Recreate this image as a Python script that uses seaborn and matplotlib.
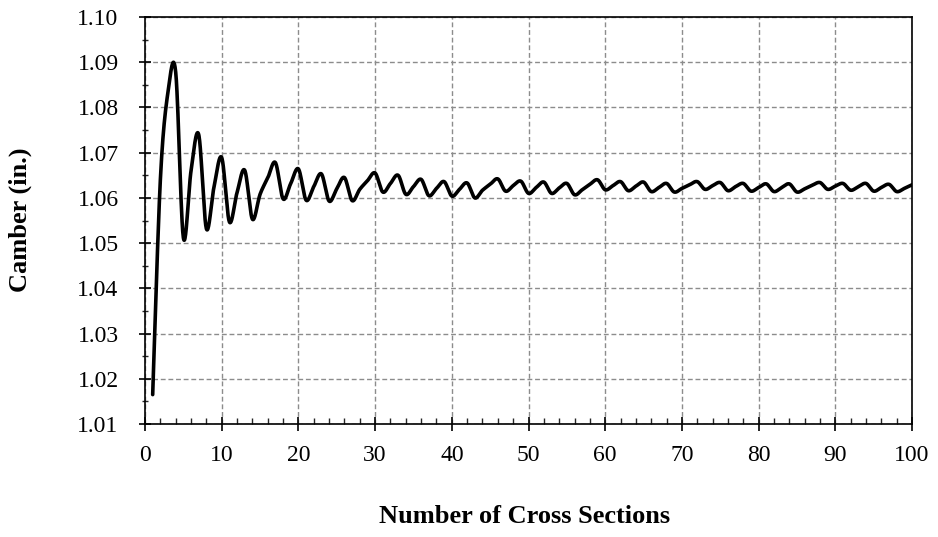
import numpy as np
import pandas as pd
import matplotlib
matplotlib.use("Agg")
import matplotlib.pyplot as plt
import seaborn as sns
from matplotlib.ticker import MultipleLocator

# ---- data ----
cross_sections = list(range(1, 101))
camber = [
    1.0165, 1.0640, 1.0835, 1.0878, 1.0512, 1.0660, 1.0740, 1.0532, 1.0625, 1.0689,
    1.0547, 1.0612, 1.0661, 1.0553, 1.0608, 1.0644, 1.0678, 1.0598, 1.0632, 1.0664,
    1.0595, 1.0625, 1.0653, 1.0593, 1.0620, 1.0645, 1.0594, 1.0619, 1.0638, 1.0655,
    1.0613, 1.0632, 1.0650, 1.0608, 1.0625, 1.0641, 1.0605, 1.0621, 1.0636, 1.0604,
    1.0619, 1.0633, 1.0600, 1.0617, 1.0630, 1.0642, 1.0615, 1.0627, 1.0637, 1.0610,
    1.0623, 1.0635, 1.0610, 1.0622, 1.0632, 1.0607, 1.0618, 1.0630, 1.0640, 1.0618,
    1.0627, 1.0636, 1.0616, 1.0626, 1.0635, 1.0614, 1.0623, 1.0632, 1.0613, 1.0621,
    1.0629, 1.0636, 1.0619, 1.0627, 1.0634, 1.0616, 1.0625, 1.0632, 1.0615, 1.0623,
    1.0631, 1.0614, 1.0623, 1.0631, 1.0613, 1.0620, 1.0628, 1.0634, 1.0619, 1.0626,
    1.0632, 1.0617, 1.0625, 1.0632, 1.0615, 1.0623, 1.0630, 1.0614, 1.0621, 1.0629,
]
x_ticks = [0, 10, 20, 30, 40, 50, 60, 70, 80, 90, 100]
y_ticks = [1.01, 1.02, 1.03, 1.04, 1.05, 1.06, 1.07, 1.08, 1.09, 1.10]
x_title = "Number of Cross Sections"
y_title = "Camber (in.)"


def smooth_path(xs, ys, n=24):
    """Excel-style smoothed line: cubic Bezier segments with Catmull-Rom control points."""
    xs = np.asarray(xs, float)
    ys = np.asarray(ys, float)
    px = np.concatenate([[xs[0]], xs, [xs[-1]]])
    py = np.concatenate([[ys[0]], ys, [ys[-1]]])
    t = np.linspace(0, 1, n, endpoint=False)
    ox, oy = [], []
    for i in range(1, len(px) - 2):
        p0 = np.array([px[i - 1], py[i - 1]])
        p1 = np.array([px[i], py[i]])
        p2 = np.array([px[i + 1], py[i + 1]])
        p3 = np.array([px[i + 2], py[i + 2]])
        c1 = p1 + (p2 - p0) / 6.0
        c2 = p2 - (p3 - p1) / 6.0
        b = ((1 - t) ** 3)[:, None] * p1 + (3 * (1 - t) ** 2 * t)[:, None] * c1 \
            + (3 * (1 - t) * t ** 2)[:, None] * c2 + (t ** 3)[:, None] * p2
        ox.extend(b[:, 0]); oy.extend(b[:, 1])
    ox.append(xs[-1]); oy.append(ys[-1])
    return np.array(ox), np.array(oy)


sx, sy = smooth_path(cross_sections, camber)
df = pd.DataFrame({"x": sx, "y": sy})

sns.set_theme(style="white")
plt.rcParams["font.family"] = ["Liberation Serif", "DejaVu Serif"]

fig = plt.figure(figsize=(9.38, 5.37), dpi=100)
ax = fig.add_axes([0.1546, 0.2104, 0.8177, 0.7579])

sns.lineplot(data=df, x="x", y="y", ax=ax, color="black", linewidth=2.6,
             sort=False, estimator=None, zorder=3)

ax.set_xlim(0, 100)
ax.set_ylim(1.01, 1.10)
ax.set_xticks(x_ticks)
ax.set_yticks(y_ticks)
ax.set_xticklabels([str(v) for v in x_ticks])
ax.set_yticklabels([f"{v:.2f}" for v in y_ticks])
ax.xaxis.set_minor_locator(MultipleLocator(2))
ax.yaxis.set_minor_locator(MultipleLocator(0.005))

ax.grid(True, which="major", color="#8c8c8c", linestyle=(0, (3.5, 2)), linewidth=1.0)
ax.set_axisbelow(True)
for s in ax.spines.values():
    s.set_color("black")
    s.set_linewidth(1.2)

ax.tick_params(axis="x", which="major", direction="inout", length=10, width=1.2,
               pad=10, labelsize=17, colors="black", bottom=True)
ax.tick_params(axis="x", which="minor", direction="in", length=4.5, width=1.0, bottom=True)
ax.tick_params(axis="y", which="major", direction="inout", length=8, width=1.2,
               pad=15, labelsize=17, colors="black", left=True)
ax.tick_params(axis="y", which="minor", direction="inout", length=5, width=1.0, left=True)

ax.set_xlabel(x_title, fontsize=19, fontweight="bold", color="black")
ax.set_ylabel(y_title, fontsize=19, fontweight="bold", color="black")
ax.xaxis.set_label_coords(0.495, -0.200)
ax.yaxis.set_label_coords(-0.147, 0.501)

fig.savefig("out.png", dpi=100)
